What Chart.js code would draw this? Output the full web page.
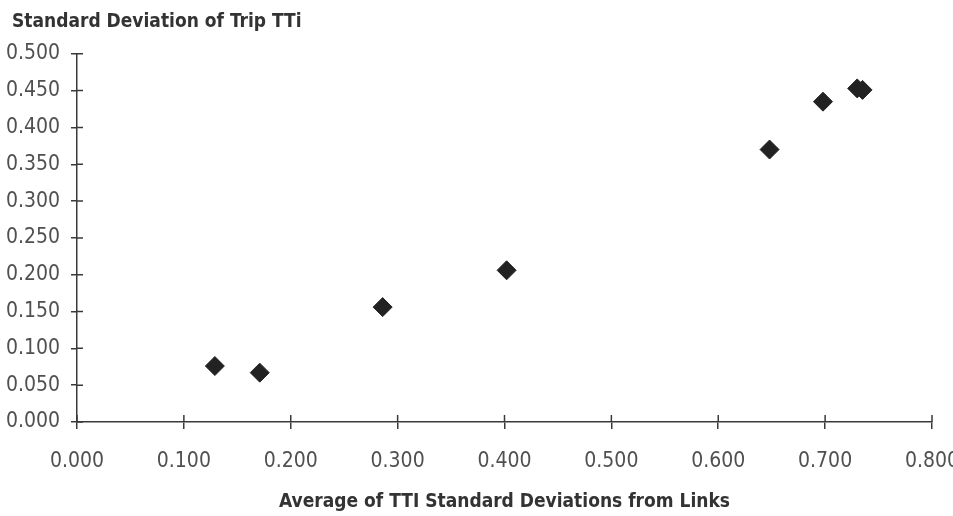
<!DOCTYPE html>
<html>
<head>
<meta charset="utf-8">
<script src="https://cdn.jsdelivr.net/npm/chart.js@4/dist/chart.umd.min.js"></script>
<style>
  html, body { margin: 0; padding: 0; background: #fff; }
  #wrap { width: 953px; height: 516px; }
</style>
</head>
<body>
<div id="wrap"><canvas id="c" width="953" height="516"></canvas></div>
<script>
const xValues = [0.129, 0.171, 0.286, 0.402, 0.648, 0.698, 0.730, 0.735];
const yValues = [0.076, 0.067, 0.156, 0.206, 0.370, 0.435, 0.453, 0.451];
const xTicks = [0, 0.1, 0.2, 0.3, 0.4, 0.5, 0.6, 0.7, 0.8];
const yTicks = [0, 0.05, 0.1, 0.15, 0.2, 0.25, 0.3, 0.35, 0.4, 0.45, 0.5];
const chartTitle = 'Standard Deviation of Trip TTi';
const xTitle = 'Average of TTI Standard Deviations from Links';

const FAMILY = "'DejaVu Sans Condensed', 'Liberation Sans', Arial, sans-serif";
const AXIS_COLOR = '#3a3a3a';

const innerTicks = {
  id: 'innerTicks',
  afterLayout(chart) {
    if (chart.titleBlock) {
      chart.titleBlock.left += 12;
      chart.titleBlock.right += 12;
    }
  },
  afterDatasetsDraw(chart) {
    const ctx = chart.ctx;
    const xs = chart.scales.x, ys = chart.scales.y;
    ctx.save();
    ctx.strokeStyle = AXIS_COLOR;
    ctx.lineWidth = 1.5;
    ctx.beginPath();
    xs.ticks.forEach((t, i) => {
      const px = xs.getPixelForTick(i);
      ctx.moveTo(px, xs.top);
      ctx.lineTo(px, xs.top - 7);
    });
    ys.ticks.forEach((t, i) => {
      const py = ys.getPixelForTick(i);
      ctx.moveTo(ys.right, py);
      ctx.lineTo(ys.right + 6, py);
    });
    ctx.stroke();
    ctx.restore();
  }
};

new Chart(document.getElementById('c'), {
  type: 'scatter',
  data: {
    datasets: [{
      data: xValues.map((x, i) => ({ x: x, y: yValues[i] })),
      pointStyle: 'rectRot',
      pointRadius: 9.5,
      pointHoverRadius: 9.5,
      backgroundColor: '#222222',
      borderColor: '#222222',
      borderWidth: 1
    }]
  },
  options: {
    responsive: false,
    animation: false,
    devicePixelRatio: 1,
    layout: { padding: { left: 0, right: 21, top: 0, bottom: 0 } },
    plugins: {
      legend: { display: false },
      tooltip: { enabled: false },
      title: {
        display: true,
        text: chartTitle,
        align: 'start',
        color: '#333333',
        font: { family: FAMILY, size: 19, weight: 'bold' },
        padding: { top: 11, bottom: 20 }
      }
    },
    scales: {
      x: {
        type: 'linear',
        min: 0, max: 0.8,
        afterBuildTicks(scale) { scale.ticks = xTicks.map(v => ({ value: v })); },
        afterFit(scale) { scale.height = 94; scale.paddingLeft = 0; scale.paddingRight = 0; },
        grid: { display: true, drawOnChartArea: false, drawTicks: true, tickLength: 7, color: AXIS_COLOR, lineWidth: 1.5 },
        border: { display: true, color: AXIS_COLOR, width: 1.5 },
        ticks: {
          color: '#505050',
          padding: 20,
          maxRotation: 0,
          autoSkip: false,
          font: { family: FAMILY, size: 21 },
          callback: v => Number(v).toFixed(3)
        },
        title: {
          display: true,
          text: xTitle,
          color: '#333333',
          font: { family: FAMILY, size: 19, weight: 'bold' },
          padding: { top: 0, bottom: 3 }
        }
      },
      y: {
        type: 'linear',
        min: 0, max: 0.5,
        afterBuildTicks(scale) { scale.ticks = yTicks.map(v => ({ value: v })); },
        afterFit(scale) { scale.width = 77; scale.paddingTop = 0; scale.paddingBottom = 0; },
        grid: { display: true, drawOnChartArea: false, drawTicks: true, tickLength: 6, color: AXIS_COLOR, lineWidth: 1.5 },
        border: { display: true, color: AXIS_COLOR, width: 1.5 },
        ticks: {
          color: '#505050',
          padding: 11,
          autoSkip: false,
          font: { family: FAMILY, size: 21 },
          callback: v => Number(v).toFixed(3)
        }
      }
    }
  },
  plugins: [innerTicks]
});
</script>
</body>
</html>
